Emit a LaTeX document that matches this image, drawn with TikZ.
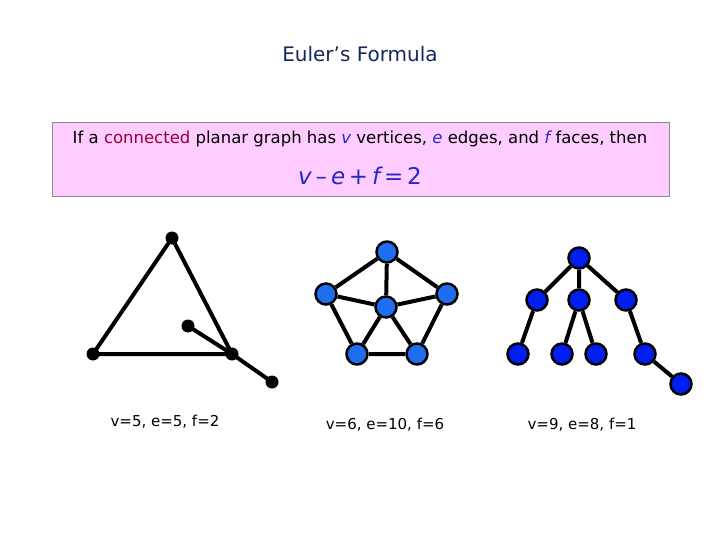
\documentclass[tikz,border=0pt]{standalone}
\usepackage{fontspec}
\setmainfont{DejaVu Sans}
\usetikzlibrary{backgrounds}
\begin{document}
\begin{tikzpicture}[x=1pt,y=-1pt,
 bv/.style={circle,fill=black,inner sep=0pt,minimum size=13pt},
 lb/.style={circle,draw=black,line width=2.5pt,fill={rgb,255:red,30;green,110;blue,240},inner sep=0pt,minimum size=21pt},
 db/.style={circle,draw=black,line width=2.5pt,fill={rgb,255:red,0;green,30;blue,240},inner sep=0pt,minimum size=21pt},
 ed/.style={line width=4pt,black},
 captxt/.style={font=\fontsize{15}{18}\selectfont}]
\useasboundingbox (0,0) rectangle (720,540);
\node (title) at (360,54) {\fontsize{20}{24}\selectfont\color[RGB]{20,40,90}Euler’s Formula};
\node[draw={rgb,255:red,140;green,140;blue,140},fill={rgb,255:red,255;green,204;blue,255},minimum width=617pt,minimum height=74pt,anchor=north west] (box) at (52,122) {};
\node (t1) at (360,139) {\fontsize{16.5}{19}\selectfont If a \textcolor[RGB]{150,0,60}{connected} planar graph has \textcolor[RGB]{40,40,200}{\itshape v} vertices, \textcolor[RGB]{40,40,200}{\itshape e} edges, and \textcolor[RGB]{40,40,200}{\itshape f} faces, then};
\node (t2) at (360,176) {\fontsize{23}{27}\selectfont\color[RGB]{40,40,200}{\itshape v}\,–\,{\itshape e}\,+\,{\itshape f}\,=\,2};
% graph 1
\node[bv] (a1) at (172,238) {};
\node[bv] (a2) at (93,354) {};
\node[bv] (a3) at (232,354) {};
\node[bv] (a4) at (188,326) {};
\node[bv] (a5) at (272,382) {};
% graph 2
\node[lb] (b1) at (387,252) {};
\node[lb] (b2) at (326,294) {};
\node[lb] (b3) at (447,294) {};
\node[lb] (b4) at (386,307) {};
\node[lb] (b5) at (357,354) {};
\node[lb] (b6) at (417,354) {};
% graph 3
\node[db] (c0) at (579,258) {};
\node[db] (c1) at (537,300) {};
\node[db] (c2) at (579,300) {};
\node[db] (c3) at (626,300) {};
\node[db] (d1) at (518,354) {};
\node[db] (d2) at (562,354) {};
\node[db] (d3) at (596,354) {};
\node[db] (d4) at (645,354) {};
\node[db] (d5) at (681,384) {};
\begin{scope}[on background layer]
\draw[ed] (a1.center)--(a2.center) (a1.center)--(a3.center) (a2.center)--(a3.center) (a4.center)--(a3.center) (a3.center)--(a5.center);
\draw[ed] (b1)--(b2) (b1)--(b3) (b1)--(b4) (b2)--(b4) (b3)--(b4) (b2)--(b5) (b3)--(b6) (b4)--(b5) (b4)--(b6) (b5)--(b6);
\draw[ed] (c0)--(c1) (c0)--(c2) (c0)--(c3) (c1)--(d1) (c2)--(d2) (c2)--(d3) (c3)--(d4) (d4)--(d5);
\end{scope}
\node[captxt] (l1) at (165,422) {v=5, e=5, f=2};
\node[captxt] (l2) at (385,425) {v=6, e=10, f=6};
\node[captxt] (l3) at (582,425) {v=9, e=8, f=1};
\end{tikzpicture}
\end{document}
